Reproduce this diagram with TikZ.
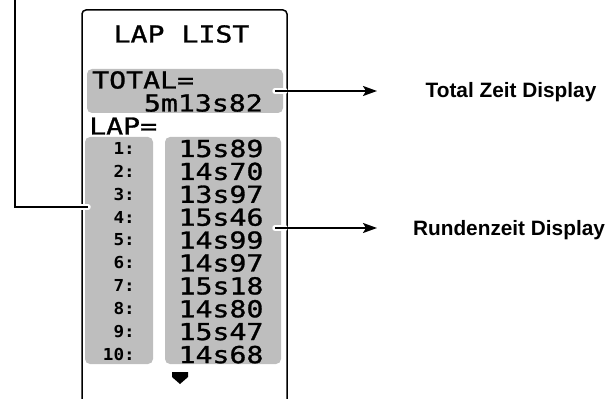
\documentclass[tikz,border=0pt]{standalone}
\usepackage{fontspec}
\setmainfont{Liberation Sans}
\newfontfamily\lcdfont[FakeStretch=1.21,FakeBold=1.2]{DejaVu Sans Mono}
\newfontfamily\lcdnum[FakeStretch=1.07]{DejaVu Sans Mono}
\usetikzlibrary{arrows.meta}
\definecolor{lcdgray}{RGB}{190,190,190}
\tikzset{
  lcd/.style={font=\lcdfont\fontsize{23.3}{23.3}\selectfont, inner sep=0pt},
  lapnum/.style={font=\lcdnum\bfseries\fontsize{16.5}{16.5}\selectfont, inner sep=0pt, anchor=east},
  lapval/.style={lcd, anchor=center},
  graybox/.style={fill=lcdgray, rounded corners=5pt, draw=none, inner sep=0pt},
  frame/.style={line width=1.5pt, rounded corners=4pt},
  callout/.style={line width=1.8pt, -{Stealth[length=14pt,width=10pt,inset=3pt]}},
  halo/.style={white, line width=5.5pt, line cap=round},
  desc/.style={font=\bfseries\fontsize{20.8}{24}\selectfont, inner sep=0pt, anchor=base},
}
\begin{document}
\begin{tikzpicture}[x=1pt,y=-1pt]
\useasboundingbox (0,0) rectangle (609,398);
% screen frame
\coordinate (fbl) at (82,399);
\coordinate (ftl) at (82,10);
\coordinate (ftr) at (287,10);
\coordinate (fbr) at (287,399);
\draw[frame] (fbl) -- (ftl) -- (ftr) -- (fbr);
% gray boxes
\node[graybox, minimum width=196pt, minimum height=44pt] (totalbox) at (185,91) {};
\node[graybox, minimum width=68pt, minimum height=227pt] (numbox) at (119,250.5) {};
\node[graybox, minimum width=116pt, minimum height=227pt] (valbox) at (223,250.5) {};
% texts
\node[lcd] (title) at (181.5,34) {LAP LIST};
\node[lcd, anchor=west] (total) at (92,80) {TOTAL=};
\node[lcd, anchor=east] (totalval) at (263,103) {5m13s82};
\node[lcd, anchor=west] (lap) at (89,126) {LAP=};
\foreach \n/\v [count=\i from 0] in {1/15s89,2/14s70,3/13s97,4/15s46,5/14s99,6/14s97,7/15s18,8/14s80,9/15s47,10/14s68}{
  \node[lapnum] (n\n) at (135,148.5+22.9*\i) {\n:};
  \node[lapval] (v\n) at (221,148.5+22.9*\i) {\v};
}
% scroll marker
\fill (172,372) -- (188,372) -- (188,377) -- (180,384) -- (172,377) -- cycle;
% descriptions
\node[desc] (dtotal) at (511,97.5) {Total Zeit Display};
\node[desc] (drunde) at (509,235.5) {Rundenzeit Display};
% callouts
\coordinate (tstart) at (275,91);
\coordinate (tend) at (377,91);
\coordinate (rstart) at (275,228);
\coordinate (rend) at (377,228);
\coordinate (hstop1) at (285,91);
\coordinate (hstop2) at (285,228);
\draw[halo] (tstart) -- (hstop1);
\draw[halo] (rstart) -- (hstop2);
\draw[callout] (tstart) -- (tend);
\draw[callout] (rstart) -- (rend);
% left bracket
\coordinate (btop) at (15,-1);
\coordinate (bcorner) at (15,207);
\coordinate (bend) at (88,207);
\coordinate (bhalo) at (80,207);
\draw[halo] (bhalo) -- (bend);
\draw[line width=1.8pt] (btop) -- (bcorner) -- (bend);
\end{tikzpicture}
\end{document}
